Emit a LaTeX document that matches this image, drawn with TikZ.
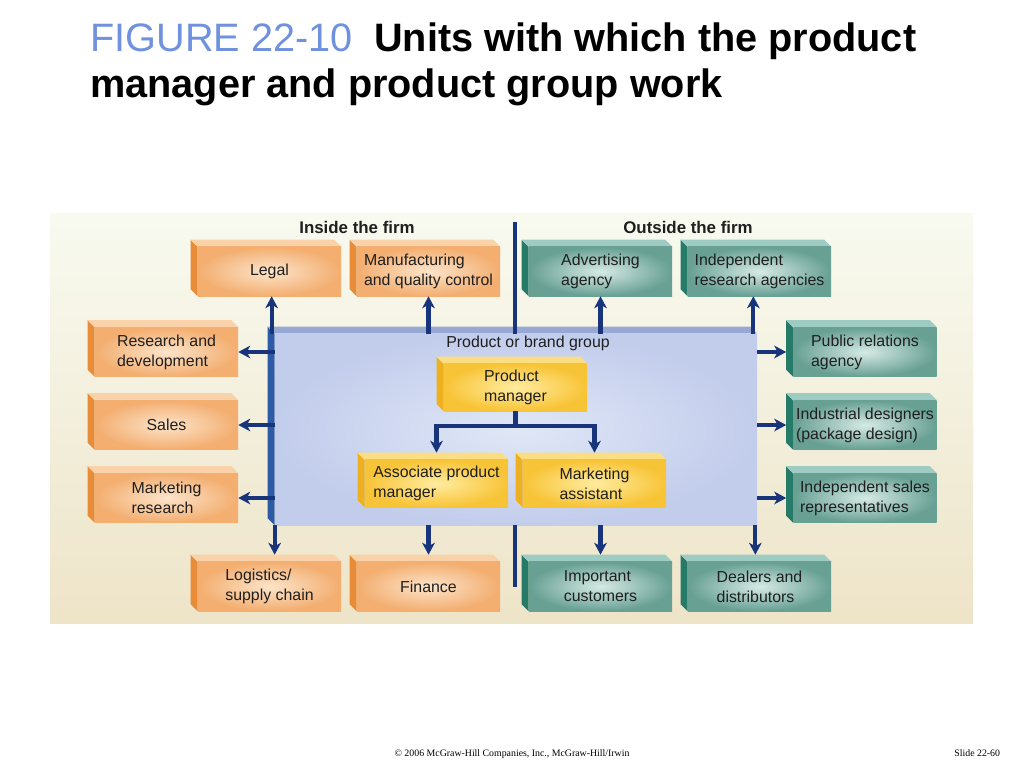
\documentclass[tikz,border=0pt]{standalone}
\usepackage{fontspec}
\setmainfont{Liberation Sans}
\newfontfamily\footfont{Liberation Serif}
\usetikzlibrary{arrows.meta}

\definecolor{navy}{RGB}{24,52,122}
\definecolor{figblue}{RGB}{112,146,222}
\definecolor{orside}{RGB}{232,140,55}
\definecolor{ortop}{RGB}{249,210,170}
\definecolor{orin}{RGB}{252,228,202}
\definecolor{orout}{RGB}{243,174,112}
\definecolor{tlside}{RGB}{38,122,104}
\definecolor{tltop}{RGB}{158,204,194}
\definecolor{tlin}{RGB}{214,234,229}
\definecolor{tlout}{RGB}{104,160,148}
\definecolor{ylside}{RGB}{238,176,30}
\definecolor{yltop}{RGB}{252,222,130}
\definecolor{ylin}{RGB}{255,236,160}
\definecolor{ylout}{RGB}{248,196,55}
\definecolor{bgside}{RGB}{45,90,165}
\definecolor{bgtop}{RGB}{152,168,212}
\definecolor{bgin}{RGB}{224,231,246}
\definecolor{bgout}{RGB}{194,205,236}
\definecolor{paneltop}{RGB}{248,250,240}
\definecolor{panelbot}{RGB}{238,228,200}

\tikzset{
  blk/.style n args={4}{minimum width=3.575cm, minimum height=1.225cm, inner sep=0pt,
    align=left, text=black!88, font=\fontsize{11.3}{14.2}\selectfont,
    shade, inner color=#3, outer color=#4,
    append after command={\pgfextra{
      % side face
      \fill[#1] (\tikzlastnode.north west) -- ++(-0.175cm,0.175cm)
        -- ([shift={(-0.175cm,0.175cm)}]\tikzlastnode.south west) -- (\tikzlastnode.south west) -- cycle;
      % top face
      \fill[#2] (\tikzlastnode.north west) -- ++(-0.175cm,0.175cm)
        -- ([shift={(-0.175cm,0.175cm)}]\tikzlastnode.north east) -- (\tikzlastnode.north east) -- cycle;
    }}},
  inside/.style={blk={orside}{ortop}{orin}{orout}},
  outside/.style={blk={tlside}{tltop}{tlin}{tlout}},
  team/.style={blk={ylside}{yltop}{ylin}{ylout}, minimum height=1.175cm},
  arr/.style={draw=navy, line width=3pt, -{Stealth[length=8.5pt,width=9pt,inset=2.5pt]}},
  divider/.style={draw=navy, line width=3pt},
  head/.style={font=\bfseries\fontsize{12}{14}\selectfont, text=black!88}
}

\begin{document}
\begin{tikzpicture}[x=0.025cm, y=-0.025cm]
  \fill[white] (0,0) rectangle (1024,768);
  \useasboundingbox (0,0) rectangle (1024,768);

  % title
  \node[anchor=base west, inner sep=0pt, font=\fontsize{28.2}{33}\selectfont] (t1) at (90,52)
    {{\color{figblue}FIGURE 22-10}\hspace{0.27em} \textbf{Units with which the product}};
  \node[anchor=base west, inner sep=0pt, font=\bfseries\fontsize{28.2}{33}\selectfont] (t2) at (90,98)
    {manager and product group work};

  % panel
  \shade[top color=paneltop, bottom color=panelbot] (50,213) rectangle (973,623);

  \node[head] (inh) at (357,227) {Inside the firm};
  \node[head] (outh) at (688,227) {Outside the firm};

  % product group
  \node[blk={bgside}{bgtop}{bgin}{bgout}, minimum width=12.05cm, minimum height=4.775cm] (grp) at (516,429.5) {};
  \node[text=black!88, font=\fontsize{11.3}{14.2}\selectfont] (grplbl) at (528,343) {Product or brand group};

  \node[team] (pm)   at (515.5,387.5) {Product\\manager};
  \node[team] (apm)  at (436.5,483.5) {Associate product\\manager};
  \node[team] (mass) at (594.5,483.5) {Marketing\\assistant};

  % inside the firm
  \node[inside] (legal) at (269.5,271.5) {Legal};
  \node[inside] (mfg)   at (428.5,271.5) {Manufacturing\\and quality control};
  \node[inside] (rnd)   at (166.5,352) {Research and\\development};
  \node[inside] (sales) at (166.5,425) {Sales};
  \node[inside] (mres)  at (166.5,498) {Marketing\\research};
  \node[inside] (logi)  at (269.5,586.5) {Logistics/\\supply chain};
  \node[inside] (fin)   at (428.5,586.5) {Finance};

  % outside the firm
  \node[outside] (adv)   at (600.5,271.5) {Advertising\\agency};
  \node[outside] (ires)  at (759.5,271.5) {Independent\\research agencies};
  \node[outside] (pr)    at (865,352) {Public relations\\agency};
  \node[outside] (ides)  at (865,425) {Industrial designers\\(package design)};
  \node[outside] (isr)   at (865,498) {Independent sales\\representatives};
  \node[outside] (icust) at (600.5,586.5) {Important\\customers};
  \node[outside] (deal)  at (759.5,586.5) {Dealers and\\distributors};

  % divider
  \coordinate (divtop) at (515,222);
  \coordinate (divbot) at (515,587);
  \draw[divider] (divtop) -- (divtop |- grp.north);
  \draw[divider] (divbot |- grp.south) -- (divbot);

  % links
  \draw[arr] ([xshift=-0.075cm]grp.north west) -- ([xshift=-0.075cm]grp.north west |- legal.south);
  \draw[arr] (mfg.south |- grp.north) -- (mfg.south);
  \draw[arr] (adv.south |- grp.north) -- (adv.south);
  \draw[arr] ([xshift=-0.1cm]grp.north east) -- ([xshift=-0.1cm]grp.north east |- ires.south);
  \draw[arr] (grp.west |- rnd) -- (rnd.east);
  \draw[arr] (grp.west |- sales) -- (sales.east);
  \draw[arr] (grp.west |- mres) -- (mres.east);
  \draw[arr] (grp.east |- pr) -- ([xshift=-0.175cm]pr.west);
  \draw[arr] (grp.east |- ides) -- ([xshift=-0.175cm]ides.west);
  \draw[arr] (grp.east |- isr) -- ([xshift=-0.175cm]isr.west);
  \draw[arr] (grp.south west) -- ([yshift=0.175cm]grp.south west |- logi.north);
  \draw[arr] (fin.north |- grp.south) -- ([yshift=0.175cm]fin.north);
  \draw[arr] (icust.north |- grp.south) -- ([yshift=0.175cm]icust.north);
  \draw[arr] ([xshift=-0.05cm]grp.south east) -- ([yshift=0.175cm,xshift=-0.05cm]grp.south east |- deal.north);
  \draw[arr] (pm.south) -- ++(0,15) -| ([yshift=0.175cm]apm.north);
  \draw[arr] (pm.south) -- ++(0,15) -| ([yshift=0.175cm]mass.north);

  % footer
  \node[anchor=base, font=\footfont\fontsize{7}{8}\selectfont] (copy) at (512,756)
    {© 2006 McGraw-Hill Companies, Inc., McGraw-Hill/Irwin};
  \node[anchor=base east, font=\footfont\fontsize{7}{8}\selectfont] (slide) at (1005,756) {Slide 22-60};
\end{tikzpicture}
\end{document}
